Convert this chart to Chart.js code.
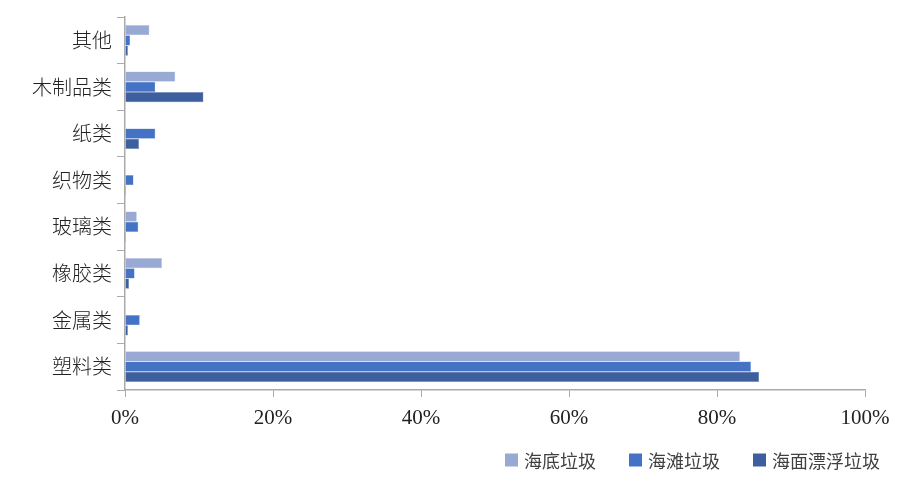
<!DOCTYPE html>
<html>
<head>
<meta charset="utf-8">
<title>海洋垃圾类别组成</title>
<script src="https://cdn.jsdelivr.net/npm/chart.js"></script>
<style>
  html, body { margin: 0; padding: 0; background: #fff; }
  #wrap { width: 913px; height: 482px; }
</style>
</head>
<body>
<div id="wrap"><canvas id="chart" width="913" height="482"></canvas></div>
<script>
// categories, top to bottom
const categories = ['其他', '木制品类', '纸类', '织物类', '玻璃类', '橡胶类', '金属类', '塑料类'];
// percentages
const seabed = [3.3, 6.8, 0, 0, 1.6, 5.0, 0, 83.1];      // 海底垃圾
const beach = [0.7, 4.1, 4.1, 1.15, 1.8, 1.3, 2.0, 84.6]; // 海滩垃圾
const floating = [0.4, 10.6, 1.9, 0.15, 0.15, 0.55, 0.4, 85.7]; // 海面漂浮垃圾
const xTicks = [0, 20, 40, 60, 80, 100];

const cjk = '"Noto Sans CJK SC", sans-serif';
const serif = '"Liberation Serif", "DejaVu Serif", serif';

// legend drawn at the bottom right, from the datasets
const bottomLegend = {
  id: 'bottomLegend',
  afterDraw(chart) {
    const c = chart.ctx;
    const box = 13, gap = 6, spacing = 33, right = 880, y = 460;
    c.save();
    c.font = '18px ' + cjk;
    c.textBaseline = 'middle';
    const items = chart.data.datasets.map(ds => ({
      text: ds.label, color: ds.backgroundColor, w: c.measureText(ds.label).width
    }));
    let total = items.reduce((s, it) => s + box + gap + it.w, 0) + spacing * (items.length - 1);
    let x = right - total;
    items.forEach(it => {
      c.fillStyle = it.color;
      c.fillRect(x, y - box / 2, box, box);
      c.fillStyle = '#404040';
      c.fillText(it.text, x + box + gap, y + 1);
      x += box + gap + it.w + spacing;
    });
    c.restore();
  }
};

const ctx = document.getElementById('chart').getContext('2d');
new Chart(ctx, {
  type: 'bar',
  data: {
    labels: categories,
    datasets: [
      { label: '海底垃圾', data: seabed, backgroundColor: '#98aad4', borderColor: '#c4cfe8', borderWidth: 0.5 },
      { label: '海滩垃圾', data: beach, backgroundColor: '#4472c4', borderColor: '#8aa6da', borderWidth: 0.5 },
      { label: '海面漂浮垃圾', data: floating, backgroundColor: '#3e5f9e', borderColor: '#8096c0', borderWidth: 0.5 }
    ]
  },
  plugins: [bottomLegend],
  options: {
    indexAxis: 'y',
    responsive: false,
    animation: false,
    layout: { padding: { top: 14, right: 48, bottom: 48, left: 0 } },
    datasets: { bar: { categoryPercentage: 0.66, barPercentage: 1.0 } },
    plugins: {
      legend: { display: false },
      tooltip: { enabled: false }
    },
    scales: {
      x: {
        min: 0,
        max: 100,
        afterBuildTicks: function (scale) {
          scale.ticks = xTicks.map(v => ({ value: v }));
        },
        afterFit: function (scale) { scale.height = 44; },
        grid: { drawOnChartArea: false, tickLength: 7, color: '#aaa' },
        border: { color: '#aaa', width: 1.5 },
        ticks: {
          color: '#222',
          padding: 9,
          maxRotation: 0,
          font: { family: serif, size: 21 },
          callback: v => v + '%'
        }
      },
      y: {
        afterFit: function (scale) { scale.width = 125; },
        grid: { drawOnChartArea: false, offset: true, tickLength: 8, color: '#aaa' },
        border: { color: '#aaa', width: 1.5 },
        ticks: {
          color: '#222',
          padding: 5,
          font: { family: cjk, size: 20, weight: '300' }
        }
      }
    }
  }
});
</script>
</body>
</html>
